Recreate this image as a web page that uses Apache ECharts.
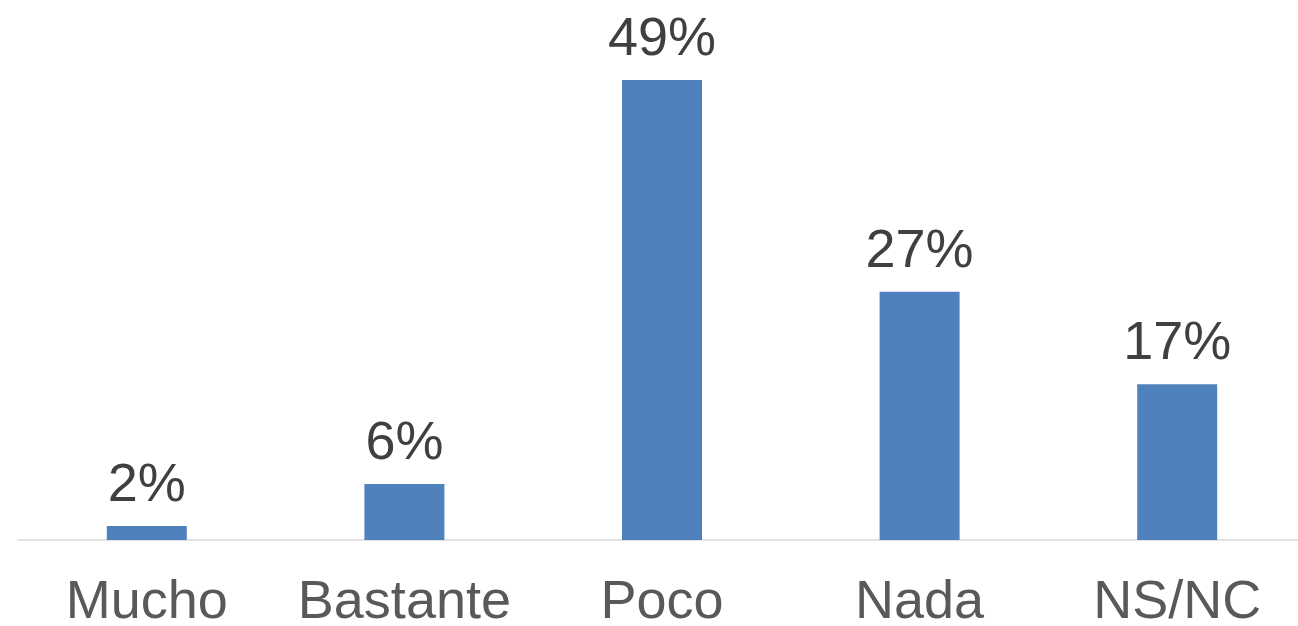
<!DOCTYPE html>
<html><head><meta charset="utf-8">
<script src="https://cdn.jsdelivr.net/npm/echarts@6/dist/echarts.min.js"></script>
<style>html,body{margin:0;padding:0;background:#fff}#c{width:1298px;height:626px}</style>
</head><body><div id="c"></div>
<script>
const categories = ['Mucho', 'Bastante', 'Poco', 'Nada', 'NS/NC'];
const values = [1.5, 6, 49.3, 26.6, 16.7];
const chart = echarts.init(document.getElementById('c'));
chart.setOption({
  animation: false,
  grid: { left: 18, width: 1288, top: 73.5, bottom: 86, containLabel: false, outerBoundsMode: 'none' },
  xAxis: {
    type: 'category', data: categories,
    axisLine: { lineStyle: { color: '#d9d9d9', width: 1.5 } },
    axisTick: { show: false },
    axisLabel: { color: '#595959', fontSize: 54, fontFamily: 'Liberation Sans', margin: 36, interval: 0, hideOverlap: false }
  },
  yAxis: { type: 'value', min: 0, max: 50, show: false, splitLine: { show: false } },
  series: [{
    type: 'bar', data: values, barWidth: 80,
    itemStyle: { color: '#4F81BD' },
    label: { show: true, position: 'top', distance: 13, formatter: p => Math.round(p.value) + '%', color: '#404040', fontSize: 54, fontFamily: 'Liberation Sans' }
  }]
});
</script></body></html>
